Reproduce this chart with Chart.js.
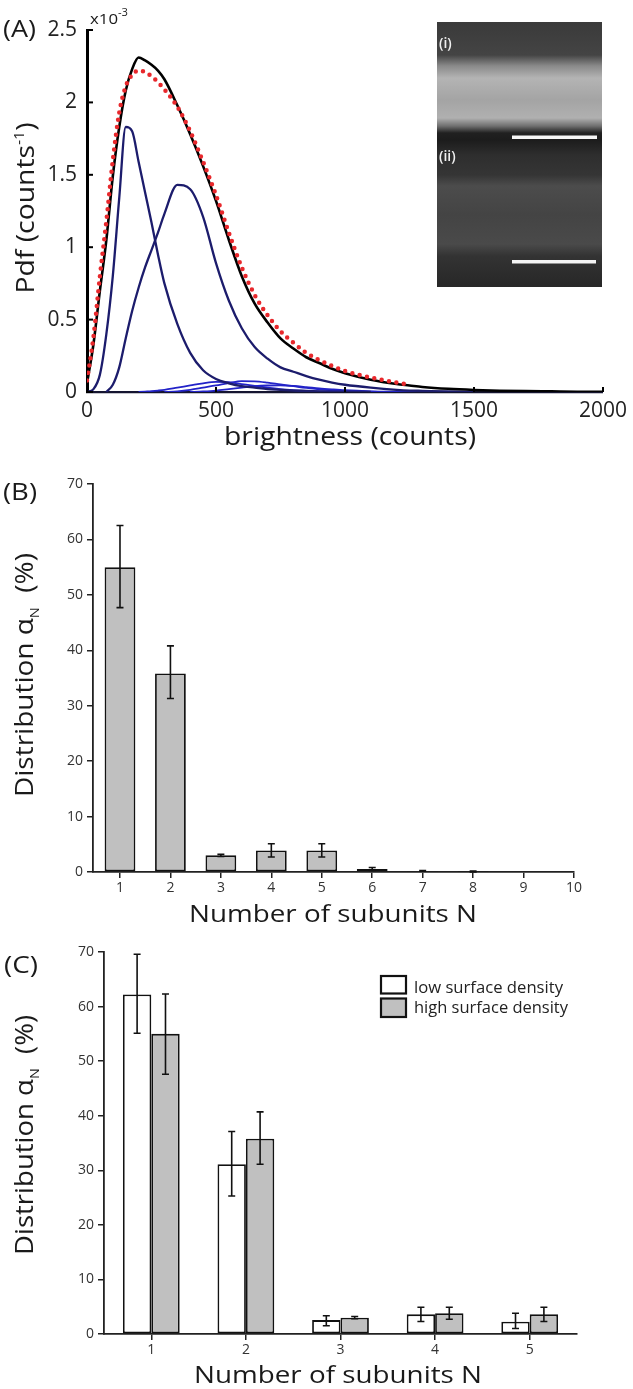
<!DOCTYPE html>
<html><head><meta charset="utf-8">
<script src="https://cdn.jsdelivr.net/npm/chart.js@4.4.1/dist/chart.umd.min.js"></script>
<style>
html,body{margin:0;padding:0;background:#fff;}
#wrap{position:relative;width:633px;height:1389px;background:#fff;overflow:hidden;}
canvas{position:absolute;left:0;}
</style></head><body>
<div id="wrap">
<canvas id="cA" width="633" height="460" style="top:0px;width:633px;height:460px"></canvas>
<canvas id="cB" width="633" height="465" style="top:460px;width:633px;height:465px"></canvas>
<canvas id="cC" width="633" height="464" style="top:925px;width:633px;height:464px"></canvas>
</div>
<script>
// ---------- Panel A data (pdf in units of 1e-3 counts^-1) ----------
const brightness = [0,25,50,75,100,125,150,175,200,225,250,275,300,350,400,450,500,550,600,650,700,750,800,850,900,950,1000,1100,1200,1250,1300,1400,1500,1600,1700,1800,1900,2000];
const pdfMeasured = [0.08,0.38,0.80,1.18,1.60,1.93,2.11,2.19,2.22,2.21,2.18,2.14,2.09,1.97,1.80,1.59,1.36,1.10,0.86,0.67,0.53,0.42,0.34,0.27,0.22,0.18,0.145,0.10,0.065,0.05,null,null,null,null,null,null,null,null];
const pdfFit = [0.06,0.33,0.70,1.05,1.49,1.83,2.08,2.23,2.31,2.29,2.26,2.22,2.16,1.98,1.78,1.56,1.32,1.05,0.80,0.61,0.48,0.37,0.30,0.24,0.20,0.16,0.13,0.085,0.055,0.045,0.035,0.022,0.014,0.009,0.006,0.004,0.002,0.001];
const pdfN1 = [0,0.02,0.12,0.40,0.80,1.34,1.83,1.80,1.59,1.38,1.17,0.95,0.75,0.47,0.27,0.15,0.09,0.06,0.04,0.03,0.02,0.015,0.01,0.008,0.005,0.003,0.002,0,null,null,null,null,null,null,null,null,null,null];
const pdfN2 = [null,null,null,0,0.05,0.17,0.37,0.56,0.72,0.86,0.98,1.10,1.23,1.43,1.40,1.21,0.89,0.63,0.44,0.31,0.23,0.17,0.14,0.11,0.085,0.065,0.05,0.03,0.015,0.01,0.008,0.004,0.002,null,null,null,null,null];
const pdfN3 = [null,null,null,null,null,null,null,null,0,0.003,0.006,0.01,0.015,0.03,0.045,0.06,0.07,0.068,0.055,0.042,0.03,0.02,0.013,0.008,0.005,0.003,0.001,0,null,null,null,null,null,null,null,null,null,null];
const pdfN4 = [null,null,null,null,null,null,null,null,null,null,null,null,0,0.005,0.015,0.03,0.045,0.062,0.075,0.074,0.065,0.052,0.04,0.028,0.018,0.011,0.007,0.002,0,0,0,0,0,null,null,null,null,null];
const pdfN5 = [null,null,null,null,null,null,null,null,null,null,null,null,null,null,0,0.004,0.01,0.02,0.03,0.04,0.045,0.046,0.042,0.034,0.025,0.018,0.012,0.005,0.002,0.001,0,0,0,null,null,null,null,null];
const brightnessTicks = [0,500,1000,1500,2000];
const pdfTicks = [0,0.5,1,1.5,2,2.5];

// ---------- Panel B data ----------
const subunitsB = [1,2,3,4,5,6,7,8,9,10];
const alphaB = [55.0,35.8,3.0,3.9,3.9,0.55,0.2,0.05,0,0];
const alphaB_lo = [47.7,31.3,2.8,2.7,2.7,0.3,0.15,0.0,null,null];
const alphaB_hi = [62.5,40.8,3.2,5.1,5.1,0.8,0.25,0.15,null,null];
const percentTicks = [0,10,20,30,40,50,60,70];

// ---------- Panel C data ----------
const subunitsC = [1,2,3,4,5];
const alphaLow = [62.2,31.1,2.55,3.6,2.25];
const alphaLow_lo = [55.1,25.3,1.5,2.3,1.0];
const alphaLow_hi = [69.6,37.1,3.35,4.9,3.8];
const alphaHigh = [55.0,35.8,3.0,3.8,3.6];
const alphaHigh_lo = [47.6,31.1,2.8,2.7,2.3];
const alphaHigh_hi = [62.3,40.7,3.2,4.9,4.9];
const legendLabels = ['low surface density','high surface density'];

// ---------- helpers ----------
const FAM = "'Open Sans', sans-serif";
const INK = '#1a1a1a';
function pts(xs, ys){ return xs.map((x,i)=>({x:x, y:ys[i]})); }
function drawRuns(ctx, runs, cx, cy, targetW, rot, align, color, weight){
  ctx.save();
  ctx.translate(cx, cy);
  if (rot) ctx.rotate(-Math.PI/2);
  let W = 0;
  runs.forEach(r=>{ ctx.font = (weight||'normal')+' '+r.s+'px '+FAM; r._w = ctx.measureText(r.t).width; W += r._w; });
  const k = targetW ? targetW/W : 1;
  ctx.scale(k,1);
  ctx.textBaseline = 'alphabetic'; ctx.textAlign = 'left';
  ctx.fillStyle = color || INK;
  let x = align === 'left' ? 0 : -W/2;
  runs.forEach(r=>{ ctx.font = (weight||'normal')+' '+r.s+'px '+FAM; ctx.fillText(r.t, x, r.dy||0); x += r._w; });
  ctx.restore();
}
function errorBars(chart, sets){
  const ctx = chart.ctx, ys = chart.scales.y;
  ctx.save(); ctx.strokeStyle = '#111'; ctx.lineWidth = 1.6;
  sets.forEach(([di, lo, hi])=>{
    const meta = chart.getDatasetMeta(di);
    meta.data.forEach((bar,i)=>{
      if (lo[i]==null || hi[i]==null) return;
      const x = bar.x, y1 = ys.getPixelForValue(lo[i]), y2 = ys.getPixelForValue(hi[i]);
      ctx.beginPath();
      ctx.moveTo(x,y1); ctx.lineTo(x,y2);
      ctx.moveTo(x-3.5,y1); ctx.lineTo(x+3.5,y1);
      ctx.moveTo(x-3.5,y2); ctx.lineTo(x+3.5,y2);
      ctx.stroke();
    });
  });
  ctx.restore();
}
function drawInset(ctx){
  const x0=437, x1=602, y0=22, y1=287;
  ctx.save();
  let g = ctx.createLinearGradient(0,y0,0,y1);
  const stops = [[22,'#3a3a3a'],[55,'#444444'],[66,'#8a8a8a'],[78,'#b4b4b4'],[100,'#a4a4a4'],[118,'#b0b0b0'],[126,'#707070'],[133,'#202020'],[140,'#1c1c1c'],[155,'#2e2e2e'],[175,'#353535'],[186,'#4c4c4c'],[215,'#444444'],[244,'#4a4a4a'],[256,'#333333'],[287,'#272727']];
  stops.forEach(([y,c])=>g.addColorStop((y-y0)/(y1-y0), c));
  ctx.fillStyle = g; ctx.fillRect(x0,y0,x1-x0,y1-y0);
  ctx.fillStyle = '#f4f4f4';
  ctx.fillRect(512,135.5,85,3.5);
  ctx.fillRect(512,260,84,3.5);
  ctx.restore();
  drawRuns(ctx,[{t:'(i)',s:14}],439,48,null,false,'left','#f0f0f0','600');
  drawRuns(ctx,[{t:'(ii)',s:14}],439,161,null,false,'left','#f0f0f0','600');
}

Chart.defaults.font.family = FAM;

// ---------- Panel A ----------
const lineCommon = {pointRadius:0, fill:false, cubicInterpolationMode:'monotone', spanGaps:false};
const panelAPlugin = {
  id:'panelA',
  afterDatasetsDraw(chart){ drawInset(chart.ctx); },
  afterDraw(chart){
    const ctx = chart.ctx, xs = chart.scales.x, ys = chart.scales.y;
    ctx.save(); ctx.strokeStyle = '#000'; ctx.lineWidth = 2;
    brightnessTicks.forEach(v=>{ const px = xs.getPixelForValue(v); ctx.beginPath(); ctx.moveTo(px, ys.bottom); ctx.lineTo(px, ys.bottom-5); ctx.stroke(); });
    pdfTicks.forEach(v=>{ const py = ys.getPixelForValue(v); ctx.beginPath(); ctx.moveTo(xs.left, py); ctx.lineTo(xs.left+6, py); ctx.stroke(); });
    ctx.restore();
    drawRuns(ctx,[{t:'(A)',s:23}],3,37,33,false,'left');
    drawRuns(ctx,[{t:'x10',s:15},{t:'-3',s:10,dy:-8}],90,24,38,false,'left');
    drawRuns(ctx,[{t:'Pdf (counts',s:25},{t:'-1',s:14,dy:-10},{t:')',s:25}],34,208,171,true,'center');
    drawRuns(ctx,[{t:'brightness (counts)',s:25}],350,445,252,false,'center');
  }
};
new Chart(document.getElementById('cA'), {
  type:'line',
  data:{datasets:[
    Object.assign({label:'measured', data:pts(brightness,pdfMeasured), borderColor:'#e8282c', borderWidth:4.5, borderDash:[0,7.5], borderCapStyle:'round'}, lineCommon),
    Object.assign({label:'fit', data:pts(brightness,pdfFit), borderColor:'#000000', borderWidth:2.6}, lineCommon),
    Object.assign({label:'N=1', data:pts(brightness,pdfN1), borderColor:'#1c1c6c', borderWidth:2.3}, lineCommon),
    Object.assign({label:'N=2', data:pts(brightness,pdfN2), borderColor:'#1c1c6c', borderWidth:2.3}, lineCommon),
    Object.assign({label:'N=3', data:pts(brightness,pdfN3), borderColor:'#2323c8', borderWidth:1.8}, lineCommon),
    Object.assign({label:'N=4', data:pts(brightness,pdfN4), borderColor:'#2323c8', borderWidth:1.8}, lineCommon),
    Object.assign({label:'N=5', data:pts(brightness,pdfN5), borderColor:'#2323c8', borderWidth:1.8}, lineCommon)
  ]},
  options:{
    responsive:false, animation:false, devicePixelRatio:1,
    layout:{padding:{top:30,right:26,left:0,bottom:0}},
    plugins:{legend:{display:false}, tooltip:{enabled:false}},
    scales:{
      x:{type:'linear', min:0, max:2000,
        afterBuildTicks:s=>{ s.ticks = brightnessTicks.map(v=>({value:v})); },
        afterFit:s=>{ s.height = 68; },
        grid:{display:true, drawOnChartArea:false, drawTicks:false},
        border:{display:true, color:'#151530', width:2.2},
        ticks:{font:{family:FAM,size:21}, color:'#222', padding:6, maxRotation:0, autoSkip:false, callback:v=>String(v)}},
      y:{type:'linear', min:0, max:2.5,
        afterBuildTicks:s=>{ s.ticks = pdfTicks.map(v=>({value:v})); },
        afterFit:s=>{ s.width = 87; },
        grid:{display:true, drawOnChartArea:false, drawTicks:false},
        border:{display:true, color:'#000', width:3},
        ticks:{font:{family:FAM,size:21}, color:'#222', padding:10, callback:v=>String(v)}}
    }
  },
  plugins:[panelAPlugin]
});

// ---------- Panel B ----------
function barScales(xmin, xmax, xticks, xH, yW){
  return {
    x:{type:'linear', min:xmin, max:xmax, offset:false,
      afterBuildTicks:s=>{ s.ticks = xticks.map(v=>({value:v})); },
      afterFit:s=>{ s.height = xH; },
      grid:{display:true, offset:false, drawOnChartArea:false, drawTicks:true, tickLength:6, color:'#222', lineWidth:1.5},
      border:{display:true, color:'#222', width:1.8},
      ticks:{font:{family:FAM,size:14}, color:'#333', padding:2, maxRotation:0, autoSkip:false, callback:v=>String(v)}},
    y:{type:'linear', min:0, max:70,
      afterBuildTicks:s=>{ s.ticks = percentTicks.map(v=>({value:v})); },
      afterFit:s=>{ s.width = yW; },
      grid:{display:true, drawOnChartArea:false, drawTicks:true, tickLength:6, color:'#222', lineWidth:1.5},
      border:{display:true, color:'#222', width:1.8},
      ticks:{font:{family:FAM,size:14}, color:'#333', padding:4, callback:v=>String(v)}}
  };
}
const panelBPlugin = {
  id:'panelB',
  afterDatasetsDraw(chart){ errorBars(chart, [[0, alphaB_lo, alphaB_hi]]); },
  afterDraw(chart){
    const ctx = chart.ctx;
    drawRuns(ctx,[{t:'(B)',s:23}],3,40,34,false,'left');
    drawRuns(ctx,[{t:'Distribution α',s:25},{t:'N',s:13,dy:6},{t:'  (%)',s:25}],33,215,244,true,'center');
    drawRuns(ctx,[{t:'Number of subunits N',s:24}],333,462,288,false,'center');
  }
};
new Chart(document.getElementById('cB'), {
  type:'bar',
  data:{datasets:[{label:'high surface density', data:pts(subunitsB,alphaB), backgroundColor:'#c0c0c0', borderColor:'#111', borderWidth:1.8, borderSkipped:false, barPercentage:0.61, categoryPercentage:1}]},
  options:{
    responsive:false, animation:false, devicePixelRatio:1,
    layout:{padding:{top:24,right:59,left:0,bottom:0}},
    plugins:{legend:{display:false}, tooltip:{enabled:false}},
    scales:barScales(0.465, 10, subunitsB, 53, 93)
  },
  plugins:[panelBPlugin]
});

// ---------- Panel C ----------
const panelCPlugin = {
  id:'panelC',
  afterDatasetsDraw(chart){ errorBars(chart, [[0, alphaLow_lo, alphaLow_hi],[1, alphaHigh_lo, alphaHigh_hi]]); },
  afterDraw(chart){
    const ctx = chart.ctx;
    drawRuns(ctx,[{t:'(C)',s:23}],4,48,34,false,'left');
    drawRuns(ctx,[{t:'Distribution α',s:25},{t:'N',s:13,dy:6},{t:'  (%)',s:25}],33,210,240,true,'center');
    drawRuns(ctx,[{t:'Number of subunits N',s:24}],338,458,288,false,'center');
    // legend
    const ds = chart.data.datasets;
    const boxes = [[51,17.5],[73.5,18.5]];
    const base = [67.7,87.7];
    const widths = [149,154];
    ds.forEach((d,i)=>{
      ctx.save();
      ctx.fillStyle = d.backgroundColor; ctx.strokeStyle = '#111'; ctx.lineWidth = 2.2;
      ctx.fillRect(381, boxes[i][0], 25, boxes[i][1]);
      ctx.strokeRect(381, boxes[i][0], 25, boxes[i][1]);
      ctx.restore();
      drawRuns(ctx,[{t:legendLabels[i],s:16}],414,base[i],widths[i],false,'left','#222');
    });
  }
};
new Chart(document.getElementById('cC'), {
  type:'bar',
  data:{datasets:[
    {label:legendLabels[0], data:pts(subunitsC,alphaLow), backgroundColor:'#ffffff', borderColor:'#111', borderWidth:1.8, borderSkipped:false, barPercentage:1, categoryPercentage:0.6},
    {label:legendLabels[1], data:pts(subunitsC,alphaHigh), backgroundColor:'#c0c0c0', borderColor:'#111', borderWidth:1.8, borderSkipped:false, barPercentage:1, categoryPercentage:0.6}
  ]},
  options:{
    responsive:false, animation:false, devicePixelRatio:1,
    layout:{padding:{top:27,right:56,left:0,bottom:0}},
    plugins:{legend:{display:false}, tooltip:{enabled:false}},
    scales:barScales(0.5, 5.5, subunitsC, 55, 104)
  },
  plugins:[panelCPlugin]
});
</script>
</body></html>
